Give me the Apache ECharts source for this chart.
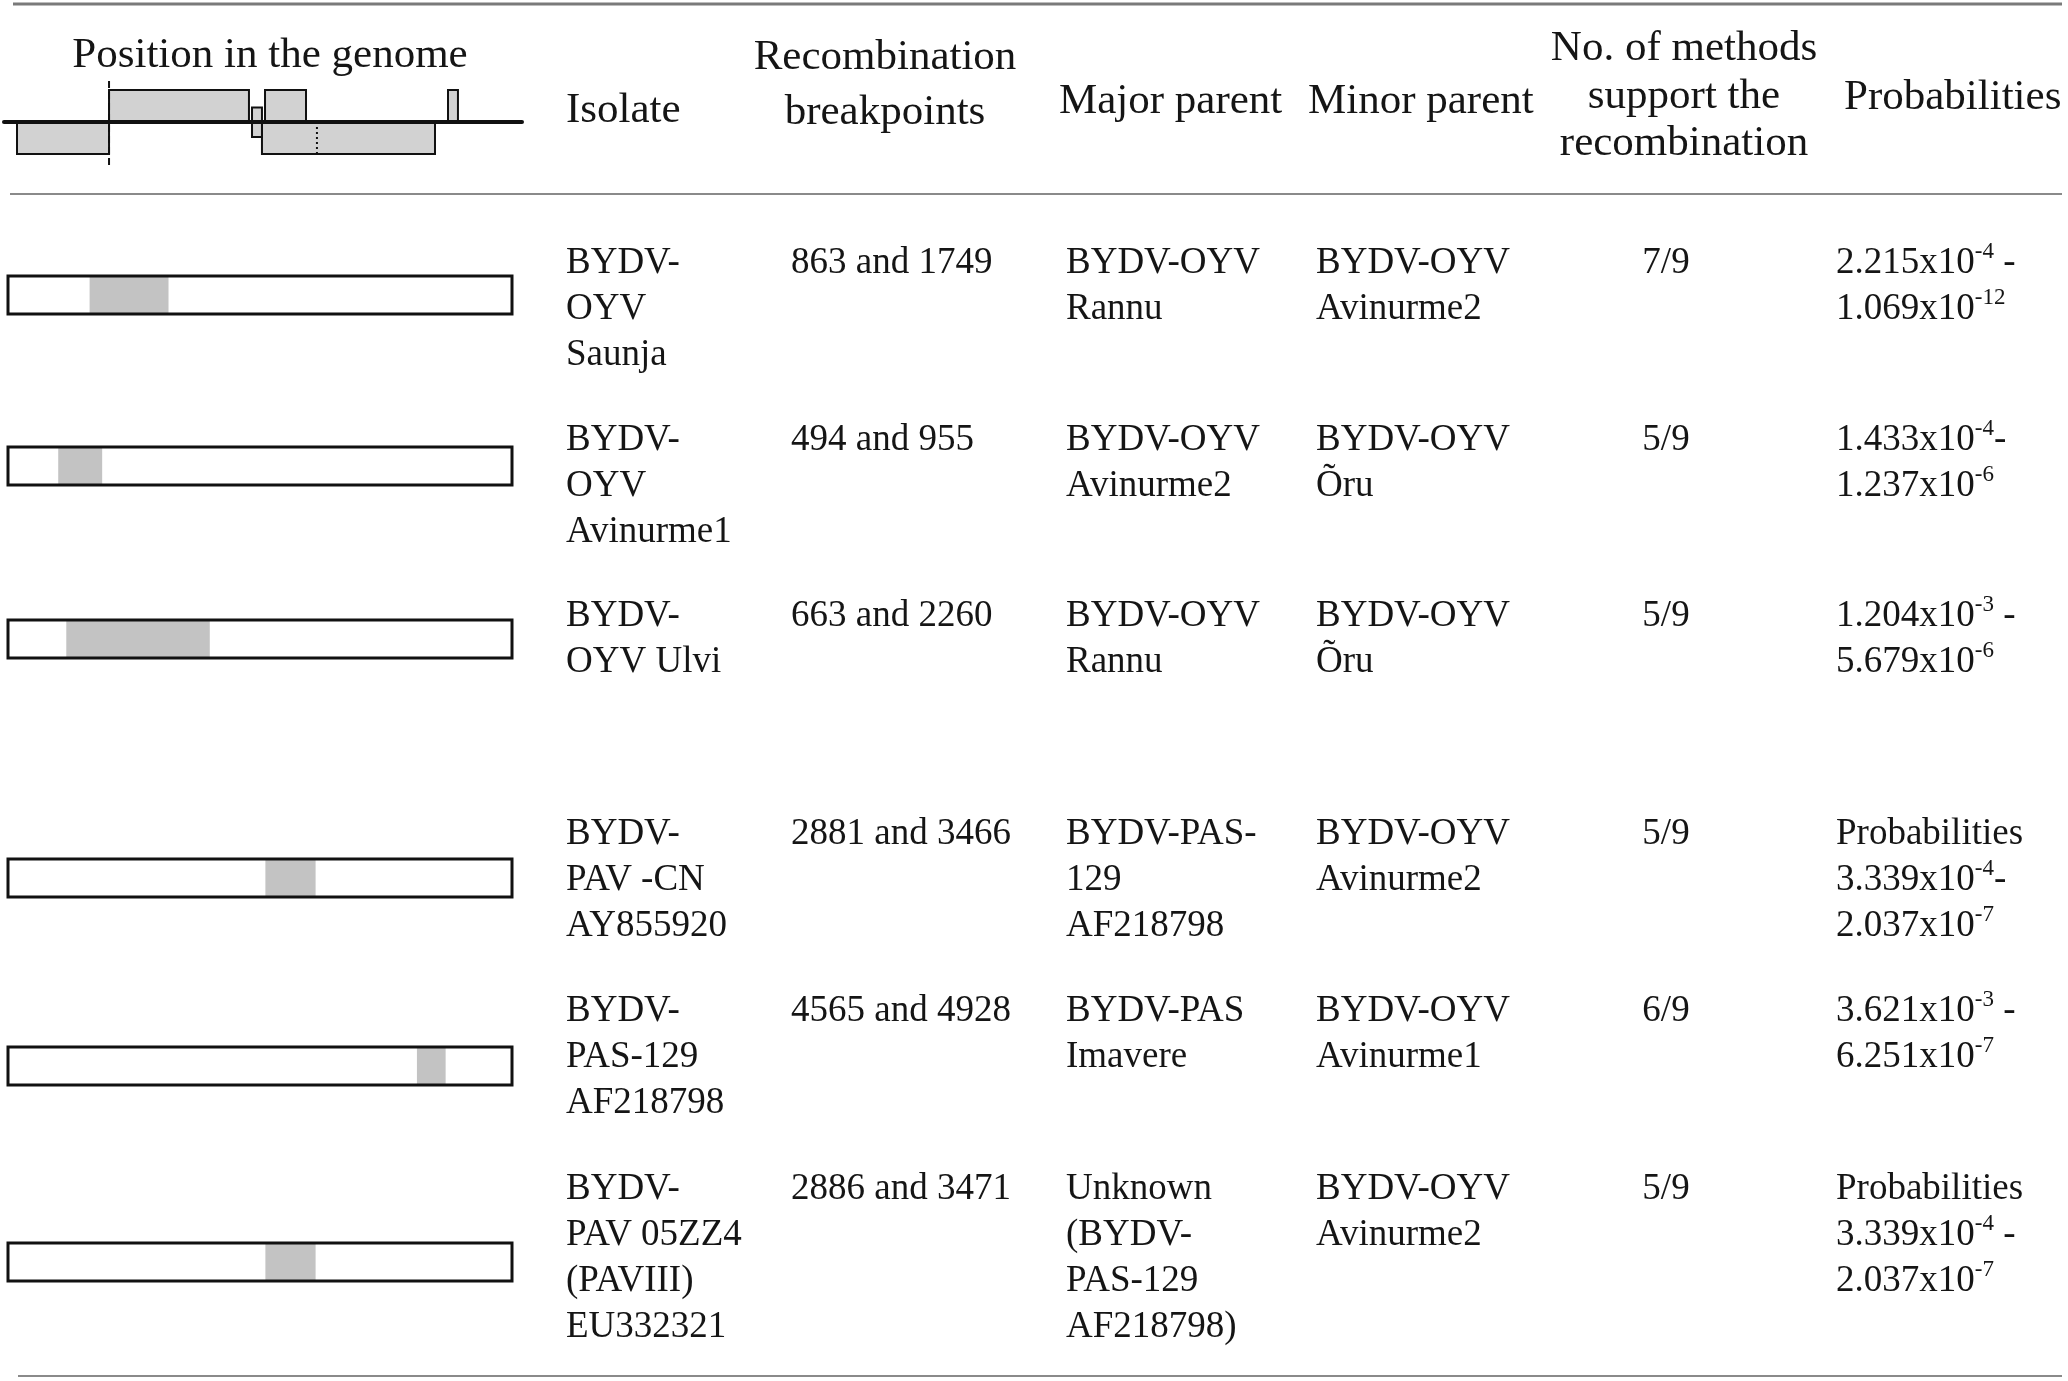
<!DOCTYPE html>
<html>
<head>
<meta charset="utf-8">
<title>Recombination events</title>
<script src="https://cdn.jsdelivr.net/npm/echarts@6/dist/echarts.min.js"></script>
<style>
html, body { margin: 0; padding: 0; background: #fff; }
#main { width: 2068px; height: 1381px; }
</style>
</head>
<body>
<div id="main"></div>
<script>
// genome lengths used for the two scales (nt)
var genomeLength = 5620;
var mapLength = 5775;

// ORFs of the genome map (nt), frame: 1 above the line, -1 below, 0 across
var orfStart = [145, 1171, 2910, 2876, 4950, 2765];
var orfEnd = [1171, 2731, 3367, 4805, 5061, 2876];
var orfFrame = [-1, 1, 1, -1, 1, 0];
var orfMarks = [1171, 3489];

// recombinant regions as drawn (nt)
var segStart = [910, 560, 650, 2870, 4560, 2870];
var segEnd = [1790, 1050, 2250, 3430, 4880, 3430];

var isolates = [
    ['BYDV-', 'OYV', 'Saunja'],
    ['BYDV-', 'OYV', 'Avinurme1'],
    ['BYDV-', 'OYV Ulvi'],
    ['BYDV-', 'PAV -CN', 'AY855920'],
    ['BYDV-', 'PAS-129', 'AF218798'],
    ['BYDV-', 'PAV 05ZZ4', '(PAVIII)', 'EU332321']
];
var breakpoints = ['863 and 1749', '494 and 955', '663 and 2260', '2881 and 3466', '4565 and 4928', '2886 and 3471'];
var majorParents = [
    ['BYDV-OYV', 'Rannu'],
    ['BYDV-OYV', 'Avinurme2'],
    ['BYDV-OYV', 'Rannu'],
    ['BYDV-PAS-', '129', 'AF218798'],
    ['BYDV-PAS', 'Imavere'],
    ['Unknown', '(BYDV-', 'PAS-129', 'AF218798)']
];
var minorParents = [
    ['BYDV-OYV', 'Avinurme2'],
    ['BYDV-OYV', 'Õru'],
    ['BYDV-OYV', 'Õru'],
    ['BYDV-OYV', 'Avinurme2'],
    ['BYDV-OYV', 'Avinurme1'],
    ['BYDV-OYV', 'Avinurme2']
];
var methods = ['7/9', '5/9', '5/9', '5/9', '6/9', '5/9'];
var probabilities = [
    ['2.215x10{s|-4} -', '1.069x10{s|-12}'],
    ['1.433x10{s|-4}-', '1.237x10{s|-6}'],
    ['1.204x10{s|-3} -', '5.679x10{s|-6}'],
    ['Probabilities', '3.339x10{s|-4}-', '2.037x10{s|-7}'],
    ['3.621x10{s|-3} -', '6.251x10{s|-7}'],
    ['Probabilities', '3.339x10{s|-4} -', '2.037x10{s|-7}']
];

var myChart = echarts.init(document.getElementById('main'));
var serif = "'Liberation Serif', 'Times New Roman', serif";
var ink = '#151515';

// layout
var rowTop = [276, 447, 620, 859, 1047, 1243];
var textMid = [263, 440, 616, 834, 1011, 1189];
var colIso = 566, colBp = 791, colMajor = 1066, colMinor = 1316, colMeth = 1666, colProb = 1836;
var bodySize = 37, bodyLine = 46, headSize = 43;

var grids = [{left: 4, top: 74, width: 518, height: 96}];
var xAxes = [{
    gridIndex: 0, type: 'value', min: 0, max: mapLength, z: 10,
    axisLine: {onZero: true, lineStyle: {color: '#111', width: 4}},
    axisTick: {show: false}, axisLabel: {show: false}, splitLine: {show: false}
}];
var yAxes = [{gridIndex: 0, type: 'value', min: -1.5, max: 1.5, show: false}];

var series = [
    {
        type: 'custom',
        xAxisIndex: 0, yAxisIndex: 0,
        data: orfStart.map(function (s, i) { return [s, orfEnd[i], orfFrame[i]]; }),
        renderItem: function (params, api) {
            var f = api.value(2);
            var hi = f === 0 ? 0.45 : (f > 0 ? 1 : 0);
            var lo = f === 0 ? -0.47 : (f > 0 ? 0 : -1);
            var p1 = api.coord([api.value(0), hi]);
            var p2 = api.coord([api.value(1), lo]);
            return {
                type: 'rect',
                shape: {x: p1[0], y: p1[1], width: p2[0] - p1[0], height: p2[1] - p1[1]},
                style: {fill: '#d2d2d2', stroke: '#111', lineWidth: 2}
            };
        }
    },
    {
        type: 'custom',
        xAxisIndex: 0, yAxisIndex: 0,
        z: 4,
        data: orfMarks.map(function (m) { return [m]; }),
        renderItem: function (params, api) {
            var dashed = params.dataIndex === 0;
            var a = api.coord([api.value(0), dashed ? 1.28 : 0]);
            var b = api.coord([api.value(0), dashed ? -1.38 : -1]);
            return {
                type: 'line',
                shape: {x1: a[0], y1: a[1], x2: b[0], y2: b[1]},
                style: {stroke: '#111', lineWidth: 2, lineDash: dashed ? [7, 4] : [2, 3]}
            };
        }
    }
];

rowTop.forEach(function (t, i) {
    grids.push({left: 8, top: t, width: 504, height: 38});
    xAxes.push({gridIndex: i + 1, type: 'value', min: 0, max: genomeLength, show: false});
    yAxes.push({gridIndex: i + 1, type: 'value', min: 0, max: 1, show: false});
    series.push({
        type: 'custom',
        xAxisIndex: i + 1, yAxisIndex: i + 1,
        data: [[segStart[i], segEnd[i]]],
        renderItem: function (params, api) {
            var s1 = api.coord([api.value(0), 1]);
            var s2 = api.coord([api.value(1), 0]);
            var g1 = api.coord([0, 1]);
            var g2 = api.coord([genomeLength, 0]);
            return {
                type: 'group',
                children: [
                    {type: 'rect', shape: {x: s1[0], y: s1[1], width: s2[0] - s1[0], height: s2[1] - s1[1]},
                        style: {fill: '#c3c3c3'}},
                    {type: 'rect', shape: {x: g1[0], y: g1[1], width: g2[0] - g1[0], height: g2[1] - g1[1]},
                        style: {fill: 'none', stroke: '#111', lineWidth: 3}}
                ]
            };
        }
    });
});

// table text and rules
var graphics = [];
function rule(x1, x2, y, w, c) {
    graphics.push({type: 'line', shape: {x1: x1, y1: y, x2: x2, y2: y}, style: {stroke: c, lineWidth: w}});
}
function cell(x, mid, lines, size, lh, align, rich) {
    graphics.push({
        type: 'text', x: x, y: mid - lh / 2,
        style: {
            text: lines.join('\n'), fill: ink, font: size + 'px ' + serif,
            lineHeight: lh, align: align || 'left', verticalAlign: 'top',
            rich: rich
        }
    });
}

rule(13, 2062, 4, 3, '#7a7a7a');
rule(10, 2062, 194, 2, '#8a8a8a');
rule(18, 2062, 1376, 2, '#8a8a8a');

cell(270, 56, ['Position in the genome'], headSize, 48, 'center');
cell(566, 111, ['Isolate'], headSize, 48);
cell(885, 58, ['Recombination', 'breakpoints'], headSize, 55, 'center');
cell(1059, 102, ['Major parent'], headSize, 48);
cell(1308, 102, ['Minor parent'], headSize, 48);
cell(1684, 49, ['No. of methods', 'support the', 'recombination'], headSize, 47.5, 'center');
cell(1844, 98, ['Probabilities'], headSize, 48);

var supRich = {s: {fontSize: 23, fontFamily: serif, fill: ink, lineHeight: 22, verticalAlign: 'top'}};
textMid.forEach(function (m, i) {
    cell(colIso, m, isolates[i], bodySize, bodyLine);
    cell(colBp, m, [breakpoints[i]], bodySize, bodyLine);
    cell(colMajor, m, majorParents[i], bodySize, bodyLine);
    cell(colMinor, m, minorParents[i], bodySize, bodyLine);
    cell(colMeth, m, [methods[i]], bodySize, bodyLine, 'center');
    cell(colProb, m, probabilities[i], bodySize, bodyLine, 'left', supRich);
});

option = {
    backgroundColor: '#fff',
    animation: false,
    grid: grids,
    xAxis: xAxes,
    yAxis: yAxes,
    series: series,
    graphic: graphics
};

myChart.setOption(option);
window.onresize = myChart.resize;
</script>
</body>
</html>
